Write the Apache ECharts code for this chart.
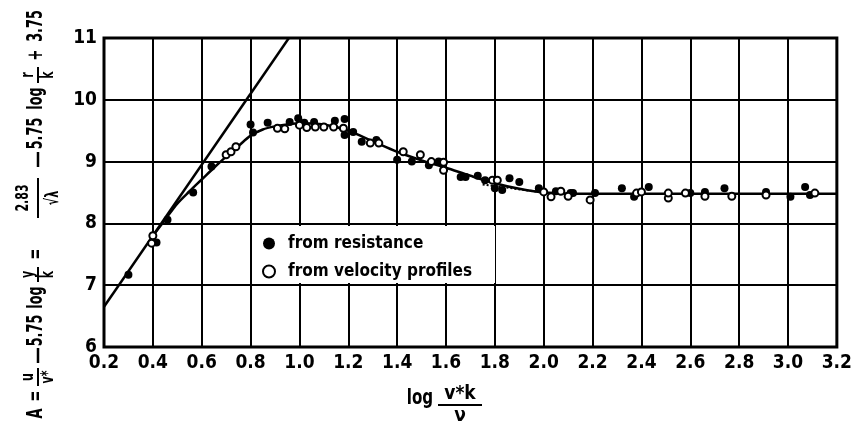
<!DOCTYPE html>
<html>
<head>
<meta charset="utf-8">
<script src="https://cdn.jsdelivr.net/npm/echarts@6/dist/echarts.min.js"></script>
<style>
    html, body { margin: 0; padding: 0; background: #fff; }
    #chart { width: 855px; height: 426px; }
</style>
</head>
<body>
<div id="chart"></div>
<script>
    // values: [log(v*k/nu), A]
    const legendNames = ['from resistance', 'from velocity profiles'];

    const resistancePts = [
        [0.30, 7.17], [0.415, 7.69], [0.46, 8.06], [0.565, 8.50], [0.64, 8.92],
        [0.80, 9.60], [0.81, 9.47], [0.87, 9.63], [0.96, 9.64], [0.995, 9.70],
        [1.02, 9.63], [1.06, 9.64], [1.145, 9.66], [1.185, 9.69], [1.185, 9.43],
        [1.22, 9.48], [1.255, 9.32], [1.315, 9.35], [1.40, 9.03], [1.46, 9.00],
        [1.53, 8.94], [1.57, 9.00], [1.66, 8.75], [1.68, 8.75], [1.73, 8.77],
        [1.76, 8.70], [1.80, 8.57], [1.83, 8.54], [1.86, 8.73], [1.90, 8.67],
        [1.98, 8.57], [2.05, 8.52], [2.11, 8.49], [2.12, 8.49], [2.21, 8.49],
        [2.32, 8.57], [2.37, 8.43], [2.43, 8.59], [2.60, 8.49], [2.66, 8.51],
        [2.74, 8.57], [2.91, 8.51], [3.01, 8.43], [3.07, 8.59], [3.09, 8.46]
    ];

    const velocityPts = [
        [0.395, 7.68], [0.40, 7.80], [0.70, 9.11], [0.72, 9.16], [0.74, 9.24],
        [0.91, 9.54], [0.94, 9.53], [1.00, 9.59], [1.03, 9.55], [1.065, 9.56],
        [1.10, 9.56], [1.14, 9.56], [1.18, 9.54], [1.29, 9.30], [1.325, 9.30],
        [1.425, 9.16], [1.495, 9.11], [1.54, 9.00], [1.59, 8.99], [1.59, 8.86],
        [1.79, 8.70], [1.81, 8.70], [2.00, 8.51], [2.03, 8.43], [2.07, 8.52],
        [2.10, 8.44], [2.19, 8.38], [2.38, 8.49], [2.40, 8.51], [2.51, 8.41],
        [2.51, 8.49], [2.58, 8.49], [2.66, 8.44], [2.77, 8.44], [2.91, 8.46],
        [3.11, 8.49]
    ];

    // smooth mean curve through the data
    const curvePts = [
        [0.40, 7.80], [0.45, 8.06], [0.50, 8.32], [0.55, 8.52], [0.60, 8.71],
        [0.65, 8.90], [0.70, 9.08], [0.75, 9.25], [0.80, 9.42], [0.85, 9.52],
        [0.90, 9.57], [0.95, 9.60], [1.00, 9.62], [1.10, 9.60], [1.20, 9.50],
        [1.30, 9.33], [1.40, 9.16], [1.50, 9.02], [1.60, 8.90], [1.70, 8.77],
        [1.80, 8.65], [1.90, 8.56], [2.00, 8.50], [2.20, 8.48], [2.60, 8.48],
        [3.20, 8.48]
    ];

    // smooth-wall straight line, two ends
    const smoothWallPts = [[0.20, 6.65], [0.957, 11.0]];

    // dotted branch under the curve
    const dottedPts = [[1.75, 8.63], [2.00, 8.50]];

    const xTicks = { min: 0.2, max: 3.2, step: 0.2 };
    const yTicks = { min: 6, max: 11, step: 1 };

    const FONT = "'Liberation Sans Narrow', 'DejaVu Sans Condensed', 'Roboto', sans-serif";
    const SQUEEZE = 0.68; // the print face is very narrow

    function label(s, x, y, size, va, sx) {
        return {
            type: 'text',
            x: x, y: y,
            scaleX: sx || SQUEEZE,
            style: {
                text: s, x: 0, y: 0,
                font: 'bold ' + size + 'px ' + FONT,
                fill: '#000', align: 'center', verticalAlign: va || 'middle'
            }
        };
    }

    function rule(x1, x2, y, w) {
        return {
            type: 'line',
            shape: { x1: x1, y1: y, x2: x2, y2: y },
            style: { stroke: '#000', lineWidth: w || 2 }
        };
    }

    // pieces of the rotated y-axis title, positions along the text line
    function yTitle() {
        const kids = [];
        const txt = (s, cx) => kids.push(label(s, cx, 0, 21));
        const frac = (num, den, x1, x2, gapN, gapD) => {
            kids.push(rule(x1, x2, 1));
            kids.push(label(num, (x1 + x2) / 2, -gapN, 18, 'bottom'));
            kids.push(label(den, (x1 + x2) / 2, gapD, 18, 'top'));
        };
        txt('A', 8.5);
        txt('=', 26);
        frac('u', 'v*', 36, 54, 0, 2);
        kids.push(rule(59, 74, 1, 2.5));
        txt('5.75', 91.5);
        txt('log', 124.5);
        frac('y', 'k', 140, 155, 0, 2);
        txt('=', 168);
        frac('2.83', '\u221A\u03BB', 204, 244, 5, 7);
        kids.push(rule(255, 270, 1, 2.5));
        txt('5.75', 288.5);
        txt('log', 323.5);
        frac('r', 'k', 339, 355, 0, 2);
        txt('+', 367);
        txt('3.75', 396);
        return {
            type: 'group',
            x: 37,
            y: 422,
            rotation: Math.PI / 2,
            children: kids
        };
    }

    const chart = echarts.init(document.getElementById('chart'));
    chart.setOption({
        animation: false,
        backgroundColor: '#fff',
        textStyle: { fontFamily: FONT, color: '#000' },
        grid: {
            left: 104, right: 15, top: 38, bottom: 79,
            show: true,
            borderColor: '#000',
            borderWidth: 3,
            backgroundColor: 'transparent'
        },
        xAxis: {
            type: 'value',
            min: xTicks.min,
            max: xTicks.max,
            interval: xTicks.step,
            axisLine: { show: false },
            axisTick: { show: false },
            splitLine: { lineStyle: { color: '#000', width: 2 } },
            axisLabel: {
                color: '#000', fontSize: 19, fontWeight: 'bold', fontFamily: FONT, margin: 7,
                formatter: v => v.toFixed(1)
            }
        },
        yAxis: {
            type: 'value',
            min: yTicks.min,
            max: yTicks.max,
            interval: yTicks.step,
            axisLine: { show: false },
            axisTick: { show: false },
            splitLine: { lineStyle: { color: '#000', width: 2 } },
            axisLabel: { color: '#000', fontSize: 19, fontWeight: 'bold', fontFamily: FONT, margin: 7 }
        },
        legend: {
            data: legendNames,
            orient: 'vertical',
            left: 257,
            top: 230,
            itemWidth: 12,
            itemHeight: 12,
            itemGap: 11,
            textStyle: { color: '#000', fontSize: 17, fontWeight: 'bold', fontFamily: FONT, padding: [0, 0, 0, 8] },
            z: 6
        },
        graphic: [
            {
                type: 'rect',
                z: 5,
                shape: { x: 253, y: 226, width: 242, height: 57 },
                style: { fill: '#fff' }
            },
            yTitle(),
            label('log', 420, 399, 21, 'middle', 0.8),
            label('v*k', 460, 404, 20, 'bottom', 0.95),
            rule(438, 482, 405),
            label('\u03BD', 460, 406, 20, 'top', 0.95)
        ],
        series: [
            {
                type: 'line',
                data: smoothWallPts,
                showSymbol: false,
                lineStyle: { color: '#000', width: 2.5 },
                z: 3
            },
            {
                type: 'line',
                data: curvePts,
                smooth: 0.3,
                showSymbol: false,
                lineStyle: { color: '#000', width: 2.5 },
                z: 3
            },
            {
                type: 'line',
                data: dottedPts,
                showSymbol: false,
                lineStyle: { color: '#000', width: 2, type: 'dotted' },
                z: 3
            },
            {
                name: legendNames[0],
                type: 'scatter',
                data: resistancePts,
                symbol: 'circle',
                symbolSize: 8,
                itemStyle: { color: '#000', opacity: 1 },
                z: 4
            },
            {
                name: legendNames[1],
                type: 'scatter',
                data: velocityPts,
                symbol: 'circle',
                symbolSize: 7,
                itemStyle: { color: '#fff', borderColor: '#000', borderWidth: 2, opacity: 1 },
                z: 4
            }
        ]
    });
</script>
</body>
</html>
